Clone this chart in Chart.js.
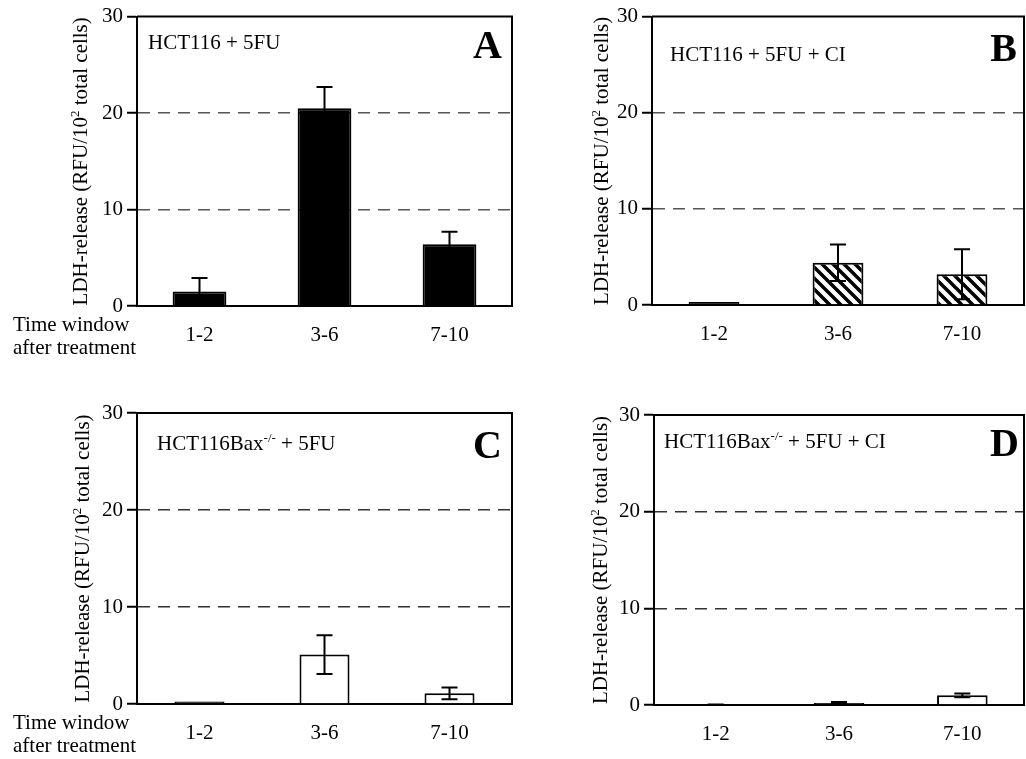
<!DOCTYPE html>
<html>
<head>
<meta charset="utf-8">
<title>LDH-release</title>
<script src="https://cdn.jsdelivr.net/npm/chart.js@4.4.1/dist/chart.umd.min.js"></script>
<style>
  html, body { margin: 0; padding: 0; background: #fff; overflow: hidden; width: 1026px; height: 759px; }
  .panel { position: absolute; }
</style>
</head>
<body>
<div class="panel" style="left:0;top:0;width:514px;height:380px"><canvas id="chartA"></canvas></div>
<div class="panel" style="left:514px;top:0;width:512px;height:380px"><canvas id="chartB"></canvas></div>
<div class="panel" style="left:0;top:380px;width:514px;height:379px"><canvas id="chartC"></canvas></div>
<div class="panel" style="left:514px;top:380px;width:512px;height:379px"><canvas id="chartD"></canvas></div>
<script>
// data (LDH-release, RFU/10^2 total cells)
const categories = ['1-2', '3-6', '7-10'];
const yMin = 0, yMax = 30, yStep = 10;

const valuesA = [1.5, 20.5, 6.4];
const errorsA = [1.4, 2.2, 1.3];
const valuesB = [0.3, 4.4, 3.2];
const errorsB = [0, 1.9, 2.6];
const valuesC = [0.25, 5.1, 1.1];
const errorsC = [0, 2.0, 0.6];
const valuesD = [0, 0.2, 1.0];
const errorsD = [0.05, 0.1, 0.2];

const panelLetters = ['A', 'B', 'C', 'D'];
const panelTitles = [
  [{t: 'HCT116 + 5FU'}],
  [{t: 'HCT116 + 5FU + CI'}],
  [{t: 'HCT116Bax'}, {t: '-/-', sup: true}, {t: ' + 5FU'}],
  [{t: 'HCT116Bax'}, {t: '-/-', sup: true}, {t: ' + 5FU + CI'}]
];
const yTitle = [{t: 'LDH-release (RFU/10'}, {t: '2', sup: true}, {t: ' total cells)'}];
const xNote = ['Time window', 'after treatment'];

const FONT = '"Liberation Serif", "Times New Roman", serif';
Chart.defaults.font.family = FONT;
Chart.defaults.font.size = 21;
Chart.defaults.color = '#000';

function hatchPattern() {
  const s = 11;
  const c = document.createElement('canvas');
  c.width = s; c.height = s;
  const g = c.getContext('2d');
  g.fillStyle = '#fff';
  g.fillRect(0, 0, s, s);
  g.strokeStyle = '#000';
  g.lineWidth = 3.5;
  g.beginPath();
  for (let k = -1; k <= 1; k++) {
    g.moveTo(k * s - 2, -2);
    g.lineTo(k * s + s + 2, s + 2);
  }
  g.stroke();
  return g.createPattern(c, 'repeat');
}

// text with superscript parts
function drawRich(ctx, parts, x, y, size, align) {
  const sub = Math.round(size * 0.62);
  let w = 0;
  parts.forEach(p => {
    ctx.font = (p.sup ? sub : size) + 'px ' + FONT;
    w += ctx.measureText(p.t).width;
  });
  let cx = align === 'center' ? x - w / 2 : x;
  parts.forEach(p => {
    ctx.font = (p.sup ? sub : size) + 'px ' + FONT;
    ctx.fillText(p.t, cx, p.sup ? y - size * 0.36 : y);
    cx += ctx.measureText(p.t).width;
  });
}

const decoPlugin = {
  id: 'deco',
  afterDatasetsDraw(chart, args, opts) {
    const ctx = chart.ctx;
    const a = chart.chartArea;
    const ys = chart.scales.y;
    const meta = chart.getDatasetMeta(0);
    const vals = chart.data.datasets[0].data;
    ctx.save();
    // error bars
    ctx.strokeStyle = '#000';
    ctx.lineWidth = 2;
    meta.data.forEach((bar, i) => {
      const v = vals[i], e = opts.errors[i];
      if (!e) return;
      const top = ys.getPixelForValue(v + e);
      const bot = ys.getPixelForValue(Math.max(v - e, 0));
      const cap = 8;
      ctx.beginPath();
      ctx.moveTo(bar.x, top); ctx.lineTo(bar.x, bot);
      ctx.moveTo(bar.x - cap, top); ctx.lineTo(bar.x + cap, top);
      ctx.moveTo(bar.x - cap, bot); ctx.lineTo(bar.x + cap, bot);
      ctx.stroke();
    });
    // frame top + right
    ctx.beginPath();
    ctx.moveTo(a.left, a.top); ctx.lineTo(a.right, a.top); ctx.lineTo(a.right, a.bottom);
    ctx.stroke();

    ctx.fillStyle = '#000';
    ctx.textBaseline = 'alphabetic';
    ctx.textAlign = 'left';
    drawRich(ctx, opts.title, a.left + opts.titleX, a.top + opts.titleY, 21, 'left');

    ctx.textAlign = 'right';
    ctx.font = 'bold 40px ' + FONT;
    ctx.fillText(opts.letter, a.left + 365, a.top + opts.letterY);

    // y axis title, rotated
    ctx.save();
    ctx.translate(a.left - opts.yTitleOff, (a.top + a.bottom) / 2);
    ctx.rotate(-Math.PI / 2);
    ctx.textAlign = 'left';
    drawRich(ctx, yTitle, 0, 0, 21, 'center');
    ctx.restore();

    if (opts.showNote) {
      ctx.textAlign = 'left';
      ctx.font = '21px ' + FONT;
      ctx.fillText(xNote[0], 13, a.bottom + 25);
      ctx.fillText(xNote[1], 13, a.bottom + 48);
    }
    ctx.restore();
  }
};

function makePanel(id, values, errors, idx, geo, style) {
  const gridColor = style.grid;
  return new Chart(document.getElementById(id), {
    type: 'bar',
    data: {
      labels: categories,
      datasets: [{
        data: values,
        // bars only a few px tall end up as a solid black line, like the print
        backgroundColor: c => (c.raw !== undefined && c.raw < 0.5) ? '#000' : style.fill,
        borderColor: '#000',
        borderWidth: 2,
        categoryPercentage: 1,
        barPercentage: style.barPct
      }]
    },
    options: {
      responsive: true,
      maintainAspectRatio: false,
      animation: false,
      devicePixelRatio: 1,
      layout: { padding: { top: geo.top, right: geo.right, left: 0, bottom: 0 } },
      plugins: {
        legend: { display: false },
        tooltip: { enabled: false },
        deco: {
          errors: errors,
          letter: panelLetters[idx],
          title: panelTitles[idx],
          titleX: geo.titleX, titleY: geo.titleY,
          letterY: geo.letterY,
          yTitleOff: geo.yTitleOff,
          showNote: geo.note
        }
      },
      scales: {
        x: {
          offset: true,
          grid: { display: false },
          border: { display: true, color: '#000', width: 2 },
          ticks: { padding: geo.xpad, maxRotation: 0, minRotation: 0 },
          afterFit: s => { s.height = geo.xh; }
        },
        y: {
          min: yMin, max: yMax,
          ticks: { stepSize: yStep, padding: 4 },
          grid: {
            color: c => (c.tick && c.tick.value > yMin && c.tick.value < yMax) ? gridColor : 'rgba(0,0,0,0)',
            lineWidth: 1.5,
            tickLength: 10,
            tickColor: '#000',
            tickWidth: 2
          },
          border: { display: true, color: '#000', width: 2, dash: [12, 8] },
          afterFit: s => { s.width = geo.yw; }
        }
      }
    },
    plugins: [decoPlugin]
  });
}

const hatch = hatchPattern();

makePanel('chartA', valuesA, errorsA, 0,
  { top: 15, right: 2, yw: 137, xh: 74, xpad: 9, titleX: 11, titleY: 32, letterY: 41, yTitleOff: 50, note: true },
  { fill: '#000', barPct: 0.43, grid: '#555' });
makePanel('chartB', valuesB, errorsB, 1,
  { top: 16, right: 2, yw: 138, xh: 75, xpad: 9, titleX: 18, titleY: 44, letterY: 44, yTitleOff: 44, note: false },
  { fill: hatch, barPct: 0.41, grid: '#555' });
makePanel('chartC', valuesC, errorsC, 2,
  { top: 33, right: 2, yw: 137, xh: 55, xpad: 9, titleX: 20, titleY: 37, letterY: 45, yTitleOff: 48, note: true },
  { fill: '#fff', barPct: 0.40, grid: '#333' });
makePanel('chartD', valuesD, errorsD, 3,
  { top: 35, right: 2, yw: 140, xh: 54, xpad: 9, titleX: 10, titleY: 33, letterY: 41, yTitleOff: 47, note: false },
  { fill: '#fff', barPct: 0.41, grid: '#333' });
</script>
</body>
</html>
